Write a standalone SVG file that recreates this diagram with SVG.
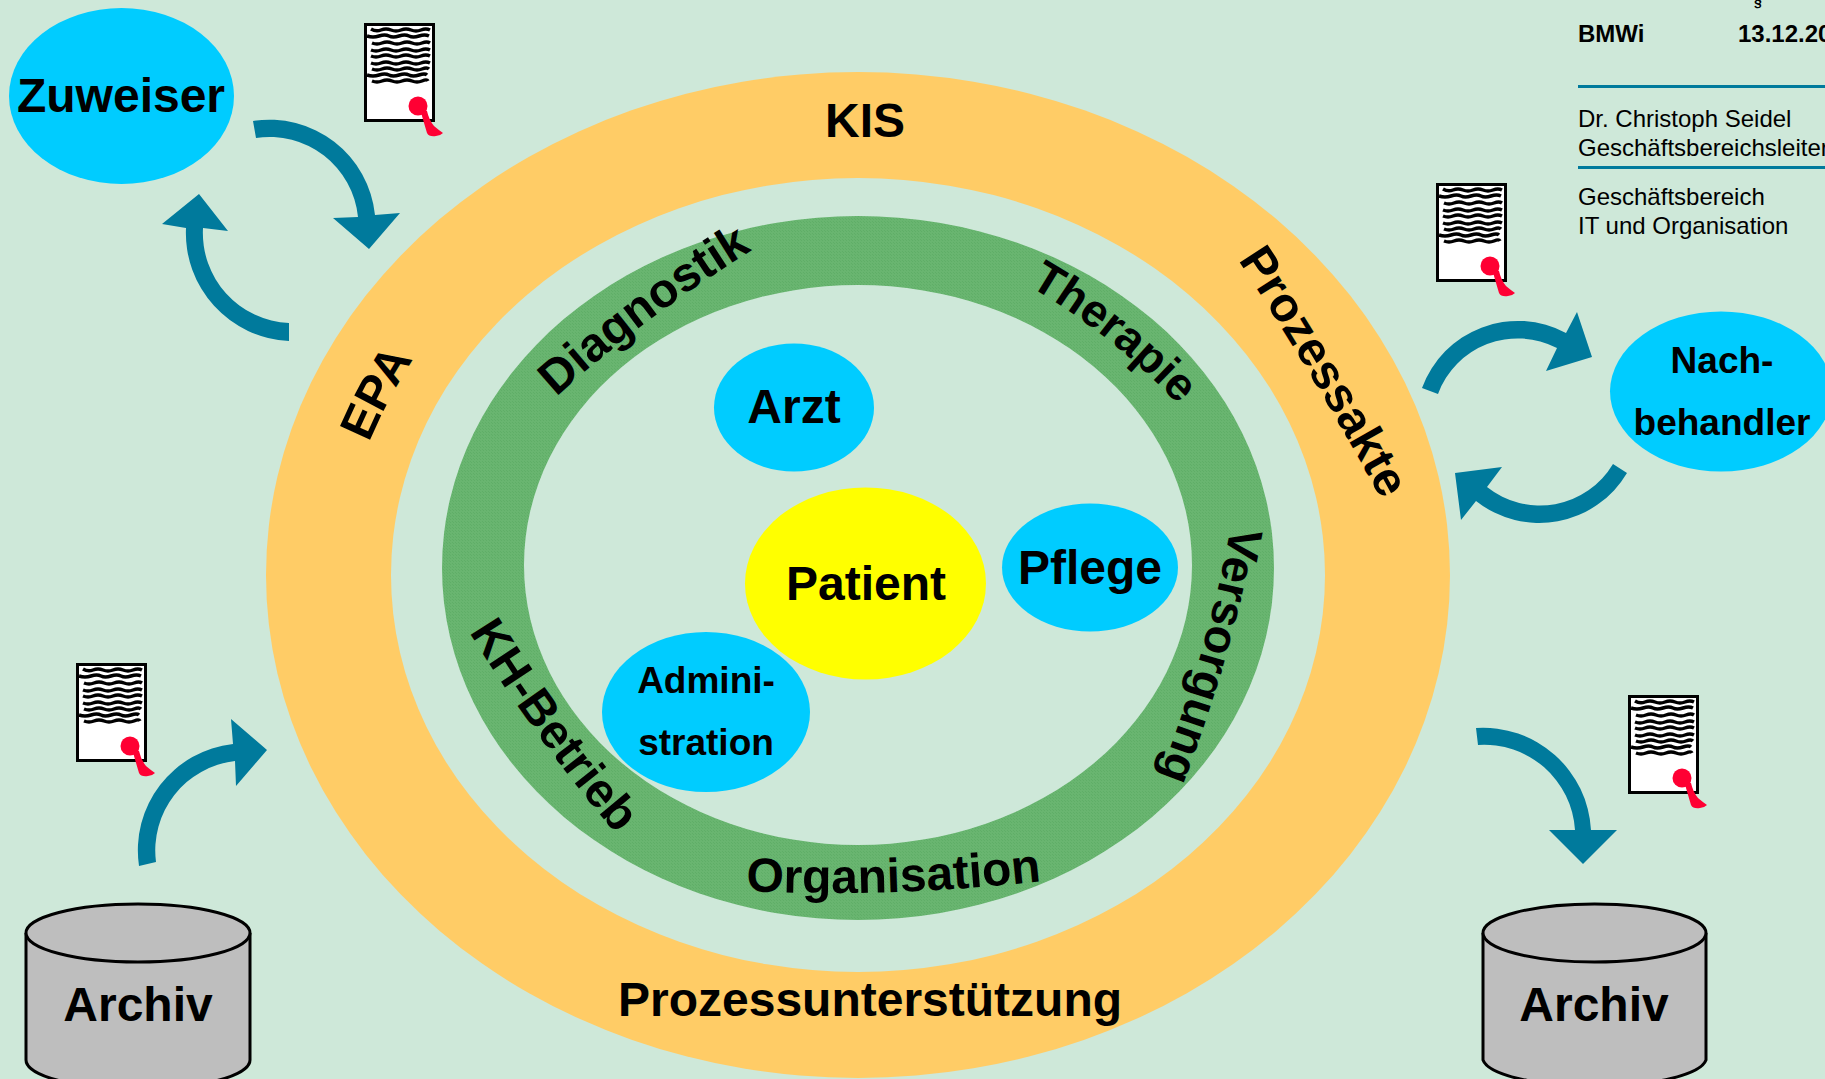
<svg xmlns="http://www.w3.org/2000/svg" xmlns:xlink="http://www.w3.org/1999/xlink" width="1825" height="1079" viewBox="0 0 1825 1079">
<style>
text{font-family:"Liberation Sans",Arial,sans-serif;fill:#000}
.b{font-weight:bold;font-size:48px}
.m{text-anchor:middle}
.s{font-weight:bold;font-size:37px;text-anchor:middle}
.h{font-size:24px}
.blue{fill:#00ccff}
.arrow{fill:#007a9c}
.cyl{fill:#bebebe;stroke:#000;stroke-width:3}
.rule{stroke:#007a9c;stroke-width:3}
</style>
<defs>
<pattern id="dither" width="3" height="3" patternUnits="userSpaceOnUse"><rect width="3" height="3" fill="#69b570"/><rect width="1" height="1" fill="#5fae67"/><rect x="2" y="2" width="1" height="1" fill="#5fae67"/></pattern>
<symbol id="doc" viewBox="0 0 90 120" width="90" height="120">
<rect x="1.500" y="1.500" width="68" height="96" fill="#fff" stroke="#000" stroke-width="3"/>
<g fill="none" stroke="#000" stroke-width="3.500">
<path d="M7 6q5 3 10 1t10 0t10 0t10 0t10 0t9 0"/>
<path d="M3 13q6 2 12 0t10 0t10 0t10 0t10 0t10 0"/>
<path d="M8 20q5 2 10 0t10 0t10 0t10 0t10 0t8 0"/>
<path d="M7 27q5 2 10 0t10 0t10 0t10 0t10 0t9 0"/>
<path d="M7 33q5 2 10 0t10 0t10 0t10 0t10 0t9 0"/>
<path d="M7 40q5 2 10 0t10 0t10 0t10 0t10 0t9 0"/>
<path d="M8 46q5 2 10 0t10 0t10 0t10 0t10 0t7 0"/>
<path d="M3 52q6 2 12 0t10 0t10 0t10 0t10 0t8 0"/>
<path d="M8 58q5 2 10 0t10 0t10 0t10 0t10 0t6 0"/>
</g>
<g fill="#ff0033"><circle cx="54" cy="83" r="9.500"/><path d="M56 86L63 88Q65 97 70 103Q76 108 79 110Q76 113 72 113Q65 114 63 110Q60 100 56 86Z"/></g>
</symbol>
<path id="pEPA" d="M369 443Q388 398 414 358L442 313"/>
<path id="pPro" d="M1238 260Q1312 372 1385 506L1410 553"/>
<path id="pDia" d="M556 397Q649 313 756 248L800 222"/>
<path id="pThe" d="M1029 286Q1110 333 1176 402L1200 428"/>
<path id="pVer" d="M1231 526Q1207 655 1156 785L1140 825"/>
<path id="pKH" d="M469 632Q537 742 620 838L650 870"/>
<path id="pOrg" d="M746 891Q890 898 1042 881L1070 876"/>
</defs>
<rect width="1825" height="1079" fill="#cee8d9"/>
<g id="connectors">
<path class="arrow" d="M253 121A106 106 0 0 1 375 215L400 213L369 249L333 218L358 217A89 89 0 0 0 256 138Z"/>
<path class="arrow" d="M289 341A108 108 0 0 1 186 228L162 224L199 194L228 231L203 228A90 90 0 0 0 289 323Z"/>
<path class="arrow" d="M139 866A107 107 0 0 1 233 744L231 719L267 750L236 786L235 761A90 90 0 0 0 156 862Z"/>
<path class="arrow" d="M1422 388A102 102 0 0 1 1566 333L1577 312L1592 357L1546 371L1557 348A85 85 0 0 0 1438 394Z"/>
<path class="arrow" d="M1627 473A102 102 0 0 1 1476 501L1461 520L1455 473L1502 467L1487 487A85 85 0 0 0 1613 464Z"/>
<path class="arrow" d="M1476 728A108 108 0 0 1 1591 830L1617 830L1583 864L1549 830L1575 830A91 91 0 0 0 1478 745Z"/>
</g>
<g id="kis-ring">
<ellipse cx="858" cy="575" rx="592" ry="503" fill="#ffcc66"/>
<ellipse cx="858" cy="575" rx="467" ry="397" fill="#cee8d9"/>
</g>
<g id="prozess-ring">
<ellipse cx="858" cy="568" rx="416" ry="352" fill="url(#dither)"/>
<ellipse cx="858" cy="565" rx="334" ry="280" fill="#cee8d9"/>
</g>
<text class="b m" x="865" y="137">KIS</text>
<text class="b"><textPath href="#pPro" xlink:href="#pPro">Prozessakte</textPath></text>
<text class="b"><textPath href="#pEPA" xlink:href="#pEPA">EPA</textPath></text>
<text class="b"><textPath href="#pDia" xlink:href="#pDia">Diagnostik</textPath></text>
<text class="b" style="font-size:46px"><textPath href="#pThe" xlink:href="#pThe">Therapie</textPath></text>
<text class="b" style="font-size:47px"><textPath href="#pVer" xlink:href="#pVer">Versorgung</textPath></text>
<text class="b"><textPath href="#pKH" xlink:href="#pKH">KH-Betrieb</textPath></text>
<text class="b"><textPath href="#pOrg" xlink:href="#pOrg">Organisation</textPath></text>
<text class="b m" x="870" y="1016">Prozessunterstützung</text>
<g id="zuweiser"><ellipse class="blue" cx="121.500" cy="96" rx="112.500" ry="88"/><text class="b m" x="121" y="112">Zuweiser</text></g>
<g id="arzt"><ellipse class="blue" cx="794" cy="407.500" rx="80" ry="64"/><text class="b m" x="794" y="423">Arzt</text></g>
<g id="patient"><ellipse cx="865.500" cy="583.500" rx="120.500" ry="96" fill="#ffff00"/><text class="b m" x="866" y="600">Patient</text></g>
<g id="pflege"><ellipse class="blue" cx="1090" cy="567.500" rx="88" ry="64"/><text class="b m" x="1090" y="584">Pflege</text></g>
<g id="administration"><ellipse class="blue" cx="706" cy="712" rx="104" ry="80"/><text class="s" x="706" y="693">Admini-</text><text class="s" x="706" y="755">stration</text></g>
<g id="nachbehandler"><ellipse class="blue" cx="1721" cy="391.500" rx="111" ry="80"/><text class="s" x="1722" y="373">Nach-</text><text class="s" x="1722" y="435">behandler</text></g>
<g id="archiv-left"><path class="cyl" d="M26 933V1060A112 29 0 0 0 250 1060V933"/><ellipse class="cyl" cx="138" cy="933" rx="112" ry="29"/><text class="b m" x="138" y="1021">Archiv</text></g>
<g id="archiv-right"><path class="cyl" d="M1483 933V1060A112 29 0 0 0 1706 1060V933"/><ellipse class="cyl" cx="1594.500" cy="933" rx="111.500" ry="29"/><text class="b m" x="1594" y="1021">Archiv</text></g>
<g id="doc-1"><use xlink:href="#doc" href="#doc" x="364" y="23"/></g>
<g id="doc-2"><use xlink:href="#doc" href="#doc" x="1436" y="183"/></g>
<g id="doc-3"><use xlink:href="#doc" href="#doc" x="76" y="663"/></g>
<g id="doc-4"><use xlink:href="#doc" href="#doc" x="1628" y="695"/></g>
<g id="header">
<text x="1754" y="6" style="font-weight:bold;font-size:14px">§</text>
<text class="h" x="1578" y="42" style="font-weight:bold">BMWi</text>
<text class="h" x="1738" y="42" style="font-weight:bold">13.12.20</text>
<line class="rule" x1="1578" y1="86.500" x2="1825" y2="86.500"/>
<text class="h" x="1578" y="127">Dr. Christoph Seidel</text>
<text class="h" x="1578" y="156">Geschäftsbereichsleiter</text>
<line class="rule" x1="1578" y1="167.500" x2="1825" y2="167.500"/>
<text class="h" x="1578" y="205">Geschäftsbereich</text>
<text class="h" x="1578" y="234">IT und Organisation</text>
</g>
</svg>
